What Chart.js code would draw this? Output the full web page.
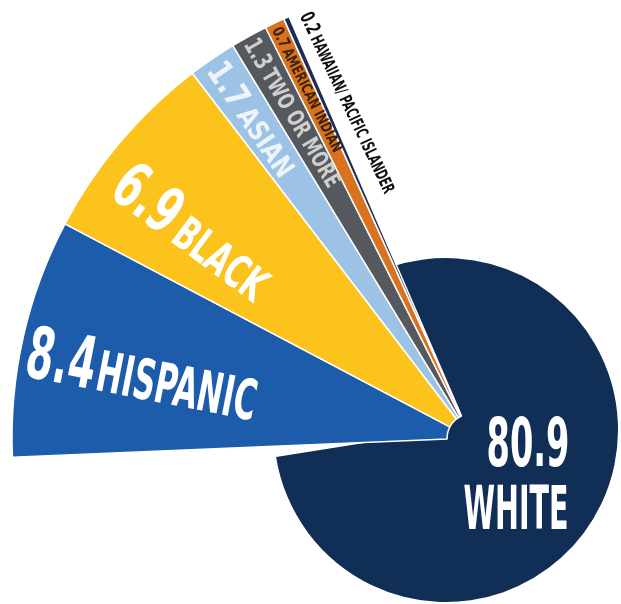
<!DOCTYPE html>
<html><head><meta charset="utf-8">
<script src="https://cdn.jsdelivr.net/npm/chart.js@4.4.1/dist/chart.umd.min.js"></script>
<style>
html,body{margin:0;padding:0;width:621px;height:604px;overflow:hidden;background:#fff;position:relative}
#wrapA{position:absolute;left:246px;top:230px;width:400px;height:400px}
#wrapB{position:absolute;left:-29px;top:-62px;width:1000px;height:1000px}
canvas{display:block}
</style></head><body>
<div id="wrapA"><canvas id="navy" width="400" height="400"></canvas></div>
<div id="wrapB"><canvas id="fan" width="1000" height="1000"></canvas></div>
<script>
// ---- data ----
const categories = ['Hispanic', 'Black', 'Asian', 'Two or more', 'American Indian', 'Hawaiian/ Pacific Islander', 'White'];
const shares = [8.4, 6.9, 1.7, 1.3, 0.7, 0.2, 80.9];
const valueLabels = ['8.4', '6.9', '1.7', '1.3', '0.7', '0.2', '80.9'];
const nameLabels = ['HISPANIC', 'BLACK', 'ASIAN', 'TWO OR MORE', 'AMERICAN INDIAN', 'HAWAIIAN/ PACIFIC ISLANDER', 'WHITE'];

// ---- styles ----
const sliceColors = ['#1d5cab', '#fbc31c', '#9cc2e5', '#55595e', '#d8721f', '#1e2c58', '#112e57'];
const WHITE_INDEX = 6;
const FONT = "'Liberation Sans Narrow','DejaVu Sans Condensed','Roboto Condensed',Roboto,'Liberation Sans',sans-serif";
// label layout along each fan slice: start radius, perpendicular shift, rotation tweak (deg), font sizes, gap, run length, colour
const fanLabelStyle = [
  {r0: 452, perp: 12, rot: -1.7, vs: 72, ns: 56, gap: 4, len: 234, color: '#ffffff'},
  {r0: 438, perp: 26, rot: -3.5, vs: 64, ns: 46, gap: 10, len: 182, color: '#ffffff'},
  {r0: 453, perp: 0, rot: 0, vs: 34, ns: 28, gap: 6, len: 132, color: '#eef4fb'},
  {r0: 455, perp: 0, rot: -1.5, vs: 25, ns: 23, gap: 5, len: 168, color: '#cfcfcf'},
  {r0: 454, perp: 0, rot: -1.5, vs: 16, ns: 15, gap: 3, len: 138, color: '#3d2208'},
  {r0: 455, perp: -20, rot: -1.75, vs: 20, ns: 17, gap: 5, len: 198, color: '#111111'}
];
const whiteLabelStyle = [
  {dx: 82, dy: 12, size: 68, width: 83},
  {dx: 70, dy: 77, size: 60, width: 105}
];

function runLabel(ctx, arc, s, value, name) {
  const p = arc.getProps(['x', 'y', 'startAngle', 'endAngle'], true);
  const mid = (p.startAngle + p.endAngle) / 2;
  const theta = mid + Math.PI + s.rot * Math.PI / 180;
  const sx = p.x + Math.cos(mid) * s.r0 + Math.cos(theta + Math.PI / 2) * s.perp;
  const sy = p.y + Math.sin(mid) * s.r0 + Math.sin(theta + Math.PI / 2) * s.perp;
  const fv = 'bold ' + s.vs + 'px ' + FONT;
  const fn = 'bold ' + s.ns + 'px ' + FONT;
  ctx.save();
  ctx.font = fv; const wv = ctx.measureText(value).width;
  ctx.font = fn; const wn = ctx.measureText(name).width;
  const k = s.len / (wv + s.gap + wn);
  ctx.translate(sx, sy);
  ctx.rotate(theta);
  ctx.scale(k, 1);
  ctx.fillStyle = s.color;
  ctx.textAlign = 'left';
  ctx.textBaseline = 'alphabetic';
  const base = s.vs * 0.36;
  ctx.font = fv; ctx.fillText(value, 0, base);
  ctx.font = fn; ctx.fillText(name, wv + s.gap, base);
  ctx.restore();
}

const fanLabels = {
  id: 'fanLabels',
  afterDatasetsDraw(chart) {
    const ctx = chart.ctx;
    const arcs = chart.getDatasetMeta(0).data;
    arcs.forEach((arc, i) => {
      if (i === WHITE_INDEX) return;
      runLabel(ctx, arc, fanLabelStyle[i], valueLabels[i], nameLabels[i]);
    });
  }
};

const whiteLabels = {
  id: 'whiteLabels',
  afterDatasetsDraw(chart) {
    const ctx = chart.ctx;
    const arc = chart.getDatasetMeta(0).data[WHITE_INDEX];
    const p = arc.getProps(['x', 'y'], true);
    const lines = [valueLabels[WHITE_INDEX], nameLabels[WHITE_INDEX]];
    lines.forEach((t, j) => {
      const s = whiteLabelStyle[j];
      ctx.save();
      ctx.font = 'bold ' + s.size + 'px ' + FONT;
      const w = ctx.measureText(t).width;
      ctx.translate(p.x + s.dx, p.y + s.dy + s.size * 0.36);
      ctx.scale(s.width / w, 1);
      ctx.fillStyle = '#ffffff';
      ctx.textAlign = 'center';
      ctx.textBaseline = 'alphabetic';
      ctx.fillText(t, 0, 0);
      ctx.restore();
    });
  }
};

const baseOptions = {
  responsive: false,
  animation: false,
  events: [],
  layout: {padding: 0},
  plugins: {legend: {display: false}, tooltip: {enabled: false}}
};

// navy "White" disc (underneath)
new Chart(document.getElementById('navy'), {
  type: 'doughnut',
  data: {
    labels: categories,
    datasets: [{
      data: shares,
      backgroundColor: shares.map((v, i) => i === WHITE_INDEX ? sliceColors[i] : 'rgba(0,0,0,0)'),
      borderWidth: 0,
      radius: 172,
      cutout: 0,
      rotation: 261
    }]
  },
  options: Object.assign({}, baseOptions, {radius: 172, cutout: 0, rotation: 261}),
  plugins: [whiteLabels]
});

// exploded fan of the smaller groups (on top)
new Chart(document.getElementById('fan'), {
  type: 'doughnut',
  data: {
    labels: categories,
    datasets: [{
      data: shares,
      backgroundColor: shares.map((v, i) => i === WHITE_INDEX ? 'rgba(0,0,0,0)' : sliceColors[i]),
      borderColor: '#ffffff',
      borderWidth: shares.map((v, i) => i === WHITE_INDEX ? 0 : 1.5),
      radius: 459,
      cutout: 26,
      rotation: 267.6
    }]
  },
  options: Object.assign({}, baseOptions, {radius: 459, cutout: 26, rotation: 267.6}),
  plugins: [fanLabels]
});
</script>
</body></html>
